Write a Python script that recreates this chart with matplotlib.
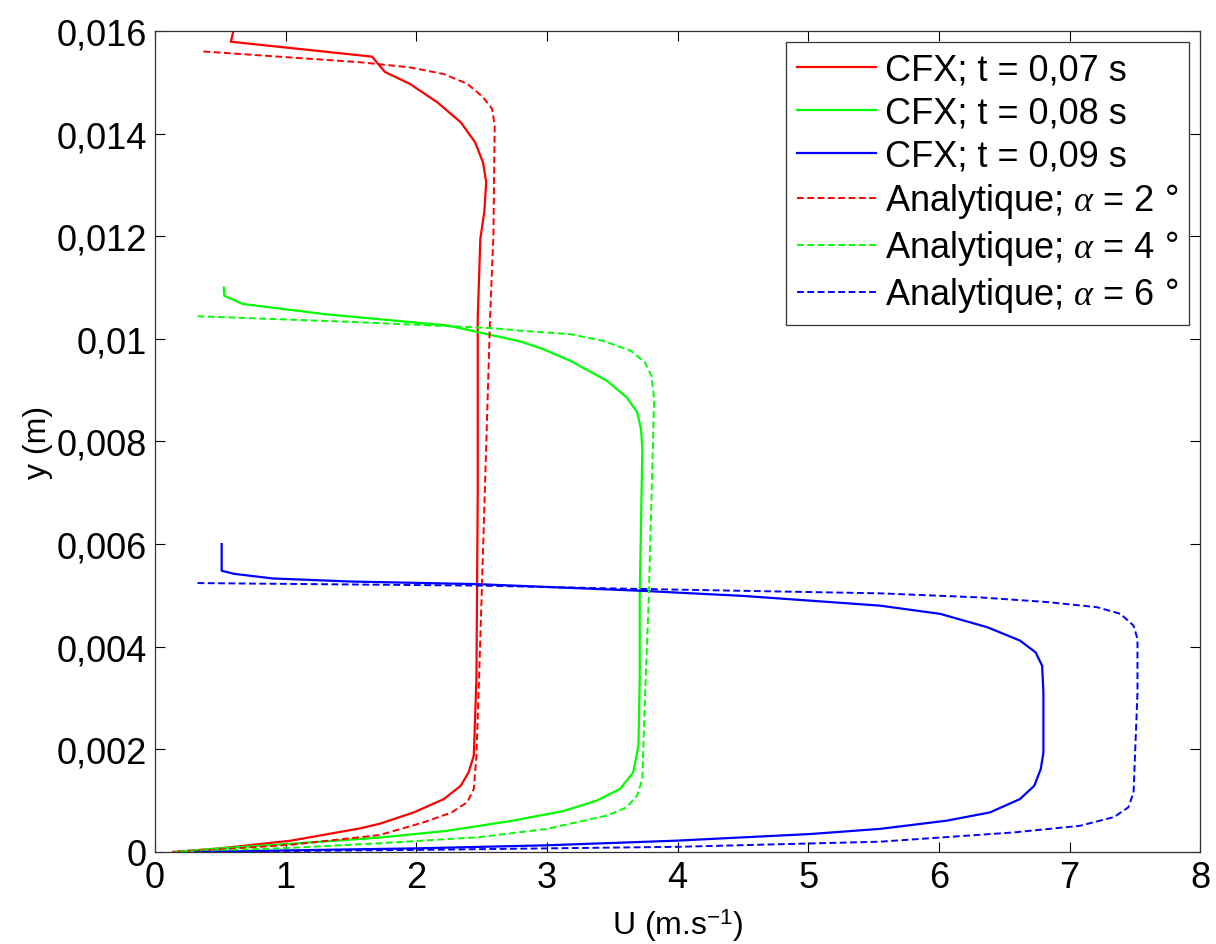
import matplotlib
matplotlib.use('Agg')
import matplotlib.pyplot as plt

plt.rcParams['font.family'] = ['Liberation Sans', 'DejaVu Sans']
plt.rcParams['mathtext.fontset'] = 'custom'
plt.rcParams['mathtext.rm'] = 'Liberation Sans'
plt.rcParams['mathtext.it'] = 'Liberation Serif:italic'

# CFX, t = 0,07 s
u_cfx07 = [0.60, 0.58, 1.66, 1.76, 1.95, 2.16, 2.34, 2.45, 2.51, 2.535, 2.52, 2.49, 2.47, 2.47, 2.46, 2.44, 2.40, 2.34, 2.21, 1.98, 1.72, 1.57, 1.04, 0.50, 0.14]
y_cfx07 = [0.0160, 0.01579, 0.0155, 0.0152, 0.01497, 0.01461, 0.01422, 0.01383, 0.01344, 0.01305, 0.01247, 0.01195, 0.0104, 0.0070, 0.00337, 0.00188, 0.00155, 0.00129, 0.00103, 0.00077, 0.00055, 0.00046, 0.00022, 0.00007, 0.0]
# CFX, t = 0,08 s
u_cfx08 = [0.526, 0.53, 0.67, 1.30, 2.24, 2.795, 2.97, 3.18, 3.46, 3.61, 3.69, 3.72, 3.73, 3.71, 3.71, 3.70, 3.66, 3.56, 3.38, 3.13, 2.74, 2.23, 1.72, 1.04, 0.50, 0.16]
y_cfx08 = [0.0110, 0.01084, 0.01068, 0.01048, 0.01026, 0.00995, 0.0098, 0.00957, 0.00918, 0.00886, 0.00857, 0.00824, 0.00785, 0.0050, 0.00337, 0.00207, 0.00155, 0.00123, 0.0010, 0.0008, 0.00061, 0.00041, 0.00028, 0.00016, 0.00007, 0.0]
# CFX, t = 0,09 s
u_cfx09 = [0.51, 0.51, 0.605, 0.90, 1.50, 2.46, 3.72, 4.50, 5.00, 5.55, 6.01, 6.37, 6.62, 6.74, 6.79, 6.80, 6.80, 6.78, 6.73, 6.62, 6.39, 6.06, 5.55, 5.02, 3.99, 3.00, 2.00, 1.00, 0.30]
y_cfx09 = [0.0060, 0.00548, 0.00542, 0.00533, 0.00527, 0.00522, 0.00509, 0.00499, 0.0049, 0.0048, 0.00464, 0.00438, 0.00412, 0.00389, 0.00363, 0.00311, 0.00194, 0.00162, 0.00129, 0.00103, 0.00077, 0.00061, 0.00045, 0.00035, 0.00022, 0.00013, 0.00007, 0.00003, 0.0]
# analytique, alpha = 2
u_ana2 = [0.37, 1.00, 1.57, 1.95, 2.21, 2.39, 2.51, 2.58, 2.60, 2.59, 2.565, 2.50, 2.48, 2.46, 2.44, 2.39, 2.27, 2.06, 1.72, 1.04, 0.50, 0.14]
y_ana2 = [0.0156, 0.01549, 0.01539, 0.01529, 0.01516, 0.01497, 0.01471, 0.01448, 0.01416, 0.01202, 0.01045, 0.0050, 0.00337, 0.00188, 0.00123, 0.00097, 0.00077, 0.00058, 0.00033, 0.00014, 0.00005, 0.0]
# analytique, alpha = 4
u_ana4 = [0.325, 1.50, 2.57, 2.795, 3.18, 3.43, 3.64, 3.75, 3.80, 3.82, 3.81, 3.78, 3.75, 3.73, 3.69, 3.61, 3.46, 3.00, 2.49, 1.72, 1.04, 0.50, 0.18]
y_ana4 = [0.01044, 0.01033, 0.01021, 0.01016, 0.01009, 0.00996, 0.00977, 0.00954, 0.00928, 0.00883, 0.00785, 0.0050, 0.0030, 0.00142, 0.0011, 0.00087, 0.00071, 0.00045, 0.00029, 0.00017, 0.00008, 0.00003, 0.0]
# analytique, alpha = 6
u_ana6 = [0.325, 2.50, 3.41, 5.55, 6.32, 6.83, 7.21, 7.39, 7.49, 7.52, 7.52, 7.49, 7.45, 7.34, 7.08, 6.57, 5.55, 4.00, 2.00, 0.30]
y_ana6 = [0.00524, 0.00519, 0.00514, 0.00504, 0.00496, 0.00487, 0.00477, 0.00464, 0.00441, 0.00415, 0.00311, 0.00116, 0.00087, 0.00068, 0.00051, 0.00038, 0.0002, 0.0001, 0.00004, 0.0]

xticks = [0, 1, 2, 3, 4, 5, 6, 7, 8]
yticks = [0, 0.002, 0.004, 0.006, 0.008, 0.01, 0.012, 0.014, 0.016]
ylabels = ['0', '0,002', '0,004', '0,006', '0,008', '0,01', '0,012', '0,014', '0,016']

fig = plt.figure(figsize=(12.16, 9.45), dpi=100)
ax = fig.add_axes([0.1275, 0.0974, 0.8595, 0.8688])

dash = (0, (3.5, 1.8))
ax.plot(u_cfx07, y_cfx07, color='#ff0000', lw=1.6, label='CFX; t = 0,07 s')
ax.plot(u_cfx08, y_cfx08, color='#00ff00', lw=1.6, label='CFX; t = 0,08 s')
ax.plot(u_cfx09, y_cfx09, color='#0000ff', lw=1.6, label='CFX; t = 0,09 s')
ax.plot(u_ana2, y_ana2, color='#ff0000', lw=1.4, ls=dash, label='Analytique; $\\mathit{\\alpha}$ = 2 °')
ax.plot(u_ana4, y_ana4, color='#00ff00', lw=1.4, ls=dash, label='Analytique; $\\mathit{\\alpha}$ = 4 °')
ax.plot(u_ana6, y_ana6, color='#0000ff', lw=1.4, ls=dash, label='Analytique; $\\mathit{\\alpha}$ = 6 °')

ax.set_xlim(0, 8)
ax.set_ylim(0, 0.016)
ax.set_xticks(xticks)
ax.set_xticklabels([str(t) for t in xticks])
ax.set_yticks(yticks)
ax.set_yticklabels(ylabels)
ax.tick_params(direction='in', length=7, width=0.8, labelsize=26, top=True, right=True, pad=6)
for s in ax.spines.values():
    s.set_linewidth(0.9)
    s.set_color('#333333')

ax.set_xlabel('U (m.s$^{-1}$)', fontsize=23, labelpad=8)
ax.set_ylabel('y (m)', fontsize=23, labelpad=2)

leg = ax.legend(loc='upper right', fontsize=26, handlelength=2.2, handletextpad=0.25,
                labelspacing=0.22, borderaxespad=0.3, borderpad=0.3, fancybox=False, framealpha=1)
leg.get_frame().set_edgecolor('#333333')
leg.get_frame().set_linewidth(0.9)

fig.savefig('out.png', dpi=100)
